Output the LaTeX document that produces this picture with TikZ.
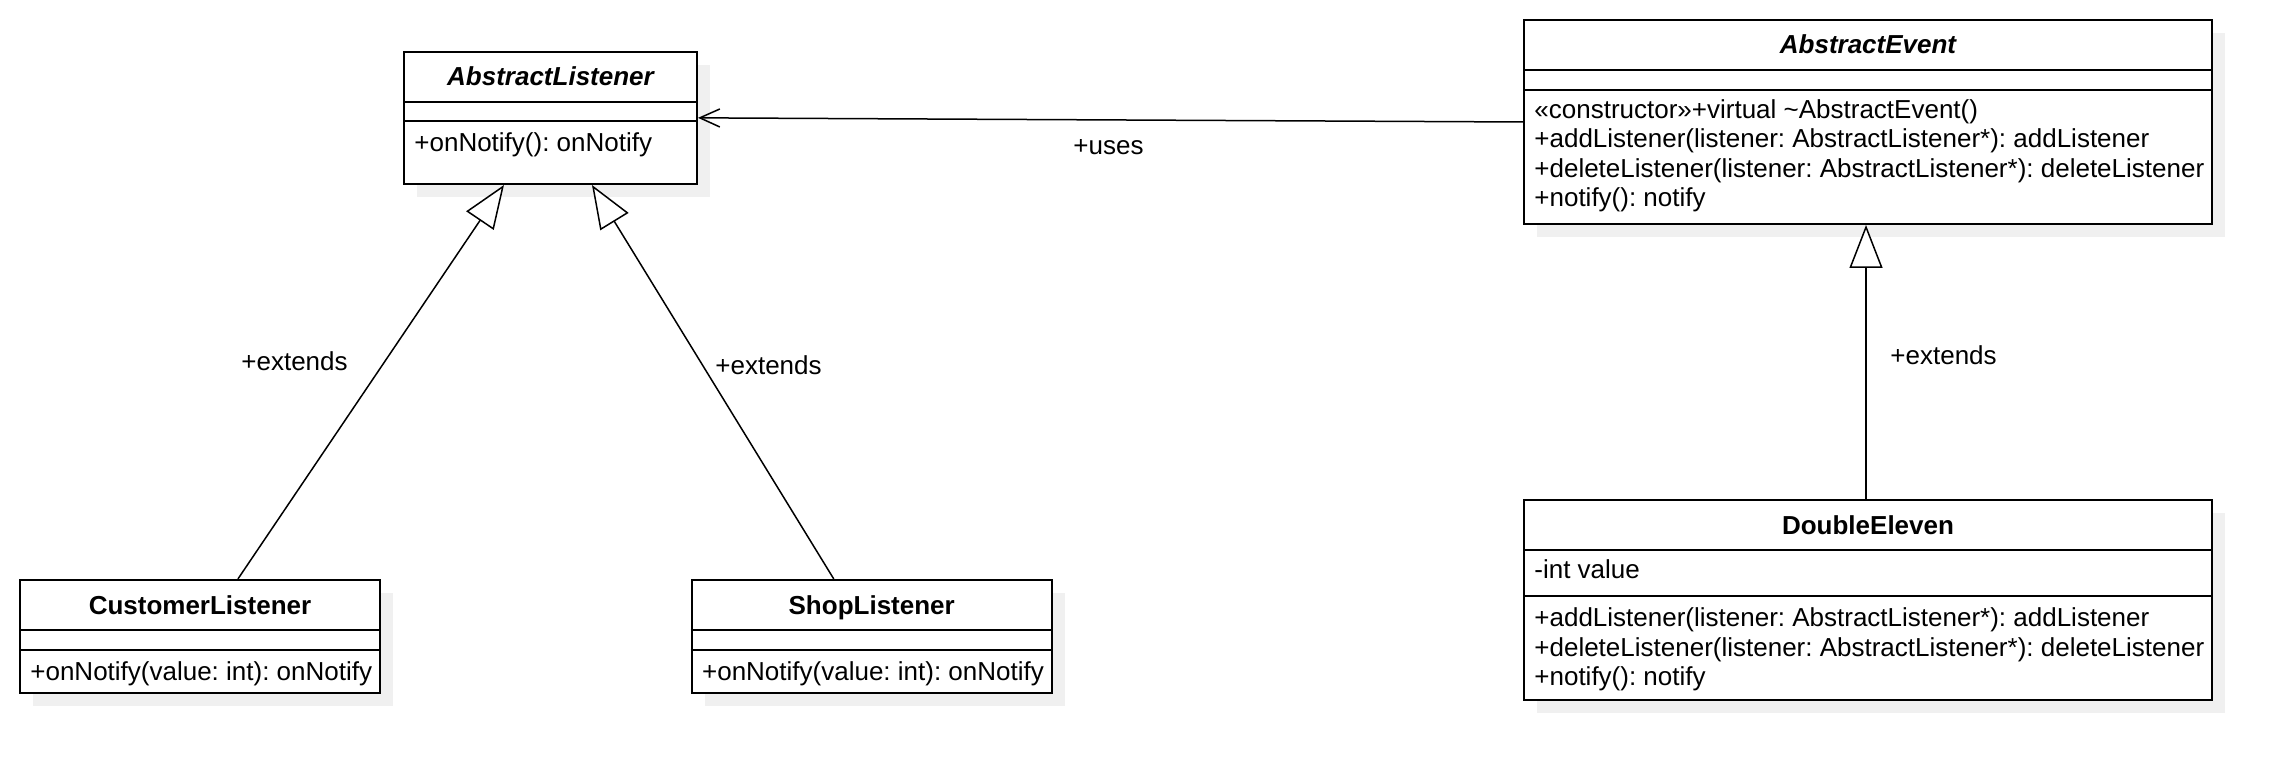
\documentclass[tikz,border=0pt]{standalone}
\usepackage{fontspec}
\setmainfont{Liberation Sans}
\usetikzlibrary{arrows.meta,fit,calc,shadows}
\definecolor{shadowgray}{RGB}{240,240,240}
\begin{document}
\frenchspacing
\begin{tikzpicture}[x=0.5pt,y=-0.5pt,
  classbox/.style={draw, line width=1pt, fill=white, inner sep=0pt,
    drop shadow={shadow xshift=6.5pt, shadow yshift=-6.5pt, fill=shadowgray, opacity=1, draw=none}},
  sepline/.style={line width=1pt},
  txt/.style={inner sep=0pt, font=\fontsize{13}{15}\selectfont\frenchspacing, anchor=base west},
  ttl/.style={inner sep=0pt, font=\fontsize{13}{15}\selectfont\bfseries, anchor=base},
  lbl/.style={inner sep=0pt, font=\fontsize{13}{15}\selectfont, anchor=base west},
  conn/.style={line width=0.75pt},
  gen/.style={conn, -{Triangle[length=21.5pt,width=16.5pt,fill=white,line width=0.75pt]}},
  usesarrow/.style={conn, -{Straight Barb[length=10pt,width=9pt,line width=0.75pt]}}]

\useasboundingbox (0,0) rectangle (2290,780);

% class boxes
\node[classbox, fit={(404,51.7) (697,184)}] (al) {};
\node[classbox, fit={(20,580) (380,693.3)}] (cl) {};
\node[classbox, fit={(691.7,580) (1051.7,693.3)}] (sl) {};
\node[classbox, fit={(1524,20) (2212,224)}] (ae) {};
\node[classbox, fit={(1524,500) (2212,700)}] (de) {};

% compartment separators
\draw[sepline] (al.west |- 0,101.7) -- (al.east |- 0,101.7);
\draw[sepline] (al.west |- 0,121) -- (al.east |- 0,121);
\draw[sepline] (cl.west |- 0,630) -- (cl.east |- 0,630);
\draw[sepline] (cl.west |- 0,650) -- (cl.east |- 0,650);
\draw[sepline] (sl.west |- 0,630) -- (sl.east |- 0,630);
\draw[sepline] (sl.west |- 0,650) -- (sl.east |- 0,650);
\draw[sepline] (ae.west |- 0,70) -- (ae.east |- 0,70);
\draw[sepline] (ae.west |- 0,90) -- (ae.east |- 0,90);
\draw[sepline] (de.west |- 0,550) -- (de.east |- 0,550);
\draw[sepline] (de.west |- 0,596) -- (de.east |- 0,596);

% AbstractListener
\node[ttl] (alT) at (550.5,85.9) {\itshape AbstractListener};
\node[txt] (alM1) at (414,151.7) {+onNotify(): onNotify};

% CustomerListener
\node[ttl] (clT) at (200,614) {CustomerListener};
\node[txt] (clM1) at (30,680) {+onNotify(value: int): onNotify};

% ShopListener
\node[ttl] (slT) at (871.7,614) {ShopListener};
\node[txt] (slM1) at (701.7,680) {+onNotify(value: int): onNotify};

% AbstractEvent
\node[ttl] (aeT) at (1868,54) {\itshape AbstractEvent};
\node[txt] (aeM1) at (1534,118.5) {«constructor»+virtual \textasciitilde AbstractEvent()};
\node[txt] (aeM2) at (1534,148) {+addListener(listener: AbstractListener*): addListener};
\node[txt] (aeM3) at (1534,177.5) {+deleteListener(listener: AbstractListener*): deleteListener};
\node[txt] (aeM4) at (1534,207) {+notify(): notify};

% DoubleEleven
\node[ttl] (deT) at (1868,534) {DoubleEleven};
\node[txt] (deA1) at (1534,578.5) {-int value};
\node[txt] (deM1) at (1534,626.7) {+addListener(listener: AbstractListener*): addListener};
\node[txt] (deM2) at (1534,656) {+deleteListener(listener: AbstractListener*): deleteListener};
\node[txt] (deM3) at (1534,685) {+notify(): notify};

% connectors
\draw[gen] ($(cl.north west)!0.6047!(cl.north east)$) -- ($(al.south west)!0.3423!(al.south east)$);
\draw[gen] ($(sl.north west)!0.3953!(sl.north east)$) -- ($(al.south west)!0.6406!(al.south east)$);
\draw[gen] ($(de.north)+(-2,0)$) -- ($(ae.south)+(-2,0)$);
\draw[usesarrow] (ae.west) -- (al.east);

% connector labels
\node[lbl] (l1) at (241,370.5) {+extends};
\node[lbl] (l2) at (715,375) {+extends};
\node[lbl] (l3) at (1890,364.5) {+extends};
\node[lbl] (l4) at (1073,155) {+uses};
\end{tikzpicture}
\end{document}
